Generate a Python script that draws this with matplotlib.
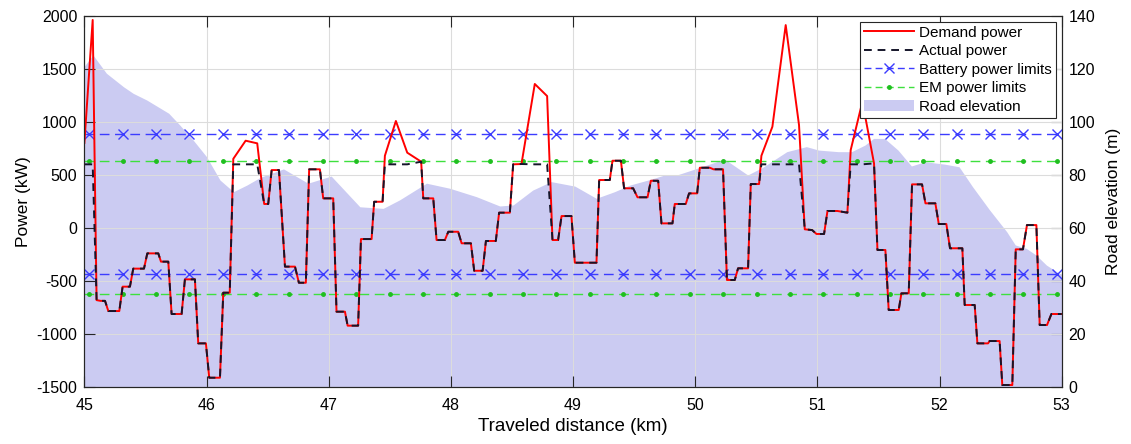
import numpy as np
import matplotlib
matplotlib.use("Agg")
import matplotlib.pyplot as plt
from matplotlib.patches import Patch
from matplotlib.lines import Line2D

plt.rcParams.update({
    "font.family": ["Liberation Sans", "DejaVu Sans"],
    "font.size": 11,
    "axes.unicode_minus": False,
})

# demand power profile (km, kW)
dist_km = [
    45.0, 45.068, 45.10, 45.133, 45.169, 45.196, 45.286, 45.313, 45.373, 45.40,
    45.488, 45.515, 45.605, 45.627, 45.687, 45.714, 45.796, 45.823, 45.905, 45.932,
    45.995, 46.022, 46.11, 46.137, 46.19, 46.219, 46.32, 46.415, 46.472, 46.505,
    46.533, 46.593, 46.642, 46.724, 46.756, 46.813, 46.84, 46.928, 46.955, 47.037,
    47.064, 47.133, 47.155, 47.241, 47.264, 47.351, 47.372, 47.441, 47.46, 47.55,
    47.643, 47.757, 47.774, 47.856, 47.883, 47.951, 47.979, 48.06, 48.088, 48.164,
    48.191, 48.26, 48.287, 48.368, 48.395, 48.483, 48.51, 48.578, 48.687, 48.788,
    48.832, 48.878, 48.906, 48.987, 49.015, 49.192, 49.214, 49.301, 49.323, 49.392,
    49.418, 49.492, 49.528, 49.61, 49.637, 49.697, 49.724, 49.814, 49.833, 49.923,
    49.95, 50.016, 50.038, 50.12, 50.15, 50.228, 50.26, 50.324, 50.351, 50.433,
    50.455, 50.523, 50.542, 50.632, 50.741, 50.85, 50.897, 50.957, 50.993, 51.055,
    51.083, 51.164, 51.246, 51.273, 51.369, 51.464, 51.492, 51.557, 51.584, 51.666,
    51.688, 51.748, 51.775, 51.857, 51.885, 51.966, 51.994, 52.056, 52.086, 52.187,
    52.206, 52.288, 52.31, 52.397, 52.41, 52.492, 52.514, 52.596, 52.624, 52.683,
    52.716, 52.793, 52.82, 52.88, 52.916, 53.0,
]
demand_kw = [
    800, 1960, -683, -690, -690, -786, -786, -556, -556, -386,
    -386, -242, -242, -320, -320, -814, -814, -487, -487, -1091,
    -1091, -1415, -1415, -613, -613, 650, 821, 796, 224, 224,
    544, 544, -367, -367, -519, -519, 551, 551, 277, 277,
    -792, -792, -924, -924, -107, -107, 245, 245, 679, 1007,
    708, 623, 277, 277, -116, -116, -38, -38, -147, -147,
    -406, -406, -125, -125, 142, 142, 598, 601, 1356, 1242,
    -116, -116, 110, 110, -330, -330, 450, 450, 632, 632,
    372, 372, 287, 287, 443, 443, 41, 41, 224, 224,
    324, 324, 566, 566, 551, 551, -493, -493, -383, -383,
    412, 412, 679, 953, 1912, 969, -15, -22, -59, -59,
    158, 158, 142, 733, 1190, 607, -210, -210, -776, -776,
    -619, -619, 409, 409, 230, 230, 35, 35, -194, -194,
    -729, -729, -1091, -1091, -1069, -1069, -1484, -1484, -204, -204,
    25, 25, -918, -918, -814, -814,
]

# power actually delivered is held at this level during the demand peaks
actual_cap_kw = 598
peak_threshold_kw = 636

# powertrain limits (kW)
battery_max_kw, battery_min_kw = 880, -440
em_max_kw, em_min_kw = 630, -625

# road elevation profile (km, m)
elev_km = [
    45.0, 45.07, 45.18, 45.32, 45.40, 45.51, 45.69, 45.78, 45.89, 46.0,
    46.11, 46.22, 46.33, 46.44, 46.63, 46.83, 47.02, 47.255, 47.446, 47.58,
    47.80, 47.99, 48.21, 48.40, 48.51, 48.67, 48.82, 49.015, 49.19, 49.34,
    49.465, 49.615, 49.75, 49.85, 50.04, 50.24, 50.43, 50.56, 50.75, 50.91,
    51.01, 51.17, 51.28, 51.39, 51.46, 51.55, 51.66, 51.77, 51.88, 52.04,
    52.16, 52.27, 52.41, 52.55, 52.62, 52.71, 52.79, 52.875, 52.98, 53.0,
]
elev_m = [
    121.0, 125.2, 118.3, 113.2, 110.7, 108.2, 103.2, 98.8, 93.1, 86.8,
    78.0, 73.6, 76.1, 79.0, 82.2, 76.8, 79.5, 67.9, 67.3, 70.5,
    76.8, 74.9, 71.7, 68.2, 68.6, 74.2, 77.4, 75.7, 71.1, 73.6,
    76.1, 78.0, 79.9, 79.9, 82.8, 85.9, 79.9, 83.0, 88.7, 90.6,
    89.3, 88.7, 88.7, 91.2, 93.7, 93.7, 89.3, 83.3, 84.9, 84.0,
    83.0, 75.5, 66.7, 58.5, 53.5, 52.2, 49.7, 45.9, 42.8, 42.5,
]

dist = np.array(dist_km)
demand = np.array(demand_kw, dtype=float)
actual = np.where(demand > peak_threshold_kw, actual_cap_kw, demand)

fig = plt.figure(figsize=(11.31, 4.44), dpi=100)
ax = fig.add_axes([0.0746, 0.129, 0.8641, 0.8356])
ax2 = ax.twinx()

# elevation area sits behind the power traces
ax2.fill_between(elev_km, 0, elev_m, color="#cbcbf2", linewidth=0)
ax2.set_ylim(0, 140)
ax2.set_yticks(np.arange(0, 141, 20))
ax2.set_ylabel("Road elevation (m)", fontsize=12.5, labelpad=8)
ax.set_zorder(ax2.get_zorder() + 1)
ax.patch.set_visible(False)

# limit lines with markers spread evenly along the span
mark_x = np.linspace(45.04, 52.96, 30)
lim_x = np.concatenate([[45.0], mark_x, [53.0]])
mk = list(range(1, len(lim_x) - 1))
blue = "#3c3cff"
green = "#3ee03e"
for lvl in (battery_max_kw, battery_min_kw):
    ax.plot(lim_x, np.full(lim_x.shape, lvl), color=blue, lw=1.0,
            dashes=(7, 4), marker="x", ms=7, mew=1.0, markevery=mk)
for lvl in (em_max_kw, em_min_kw):
    ax.plot(lim_x, np.full(lim_x.shape, lvl), color=green, lw=1.0,
            dashes=(7, 4), marker=".", ms=5, mfc="#1fbf1f", mec="#1fbf1f",
            markevery=mk)

ax.plot(dist, demand, color="red", lw=1.4)
ax.plot(dist, actual, color="#15152a", lw=1.4, dashes=(4, 3))

ax.set_xlim(45, 53)
ax.set_ylim(-1500, 2000)
ax.set_xticks(np.arange(45, 54, 1))
ax.set_yticks(np.arange(-1500, 2001, 500))
ax.grid(True, color="#dcdcdc", lw=0.8)
ax.set_axisbelow(True)

ax.set_xlabel("Traveled distance (km)", fontsize=13.5, labelpad=4)
ax.set_ylabel("Power (kW)", fontsize=12.5)

for a in (ax, ax2):
    a.tick_params(direction="in", length=8, width=0.8, colors="#262626",
                  labelsize=11.5, labelcolor="black", pad=5)
    for s in a.spines.values():
        s.set_color("#262626")
        s.set_linewidth(0.8)
ax.tick_params(axis="x", top=True, pad=8)

handles = [
    Line2D([], [], color="red", lw=1.4),
    Line2D([], [], color="#15152a", lw=1.4, dashes=(4, 3)),
    Line2D([], [], color=blue, lw=1.0, dashes=(5, 3), marker="x", ms=7),
    Line2D([], [], color=green, lw=1.0, dashes=(5, 3), marker=".", ms=5,
           mfc="#1fbf1f", mec="#1fbf1f"),
    Patch(facecolor="#cbcbf2", edgecolor="none"),
]
labels = ["Demand power", "Actual power", "Battery power limits",
          "EM power limits", "Road elevation"]
leg = ax.legend(handles, labels, loc="upper right", fontsize=11,
                handlelength=3.3, labelspacing=0.3, borderaxespad=0.4,
                fancybox=False, framealpha=1, borderpad=0.25,
                handletextpad=0.3, numpoints=1)
leg.get_frame().set_edgecolor("#262626")
leg.get_frame().set_linewidth(0.8)

fig.savefig("out.png", dpi=100)
